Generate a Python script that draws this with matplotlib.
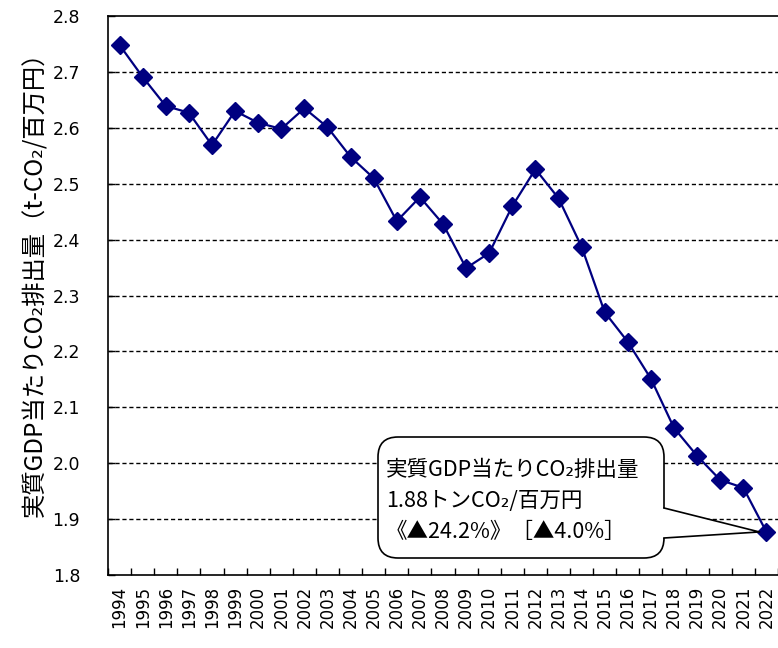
import matplotlib
matplotlib.use("Agg")
import matplotlib.pyplot as plt
from matplotlib.patches import FancyBboxPatch, Polygon
from matplotlib.lines import Line2D
import numpy as np

plt.rcParams['font.family'] = ['DejaVu Sans']
JP = ['Noto Sans CJK JP', 'DejaVu Sans']

# Real-GDP CO2 intensity (t-CO2 per million yen), FY1994-FY2022
years = [str(y) for y in range(1994, 2023)]
intensity = [2.748, 2.691, 2.639, 2.627, 2.569, 2.630, 2.609, 2.598, 2.635, 2.601,
             2.548, 2.510, 2.433, 2.476, 2.428, 2.349, 2.376, 2.460, 2.526, 2.474,
             2.387, 2.270, 2.217, 2.151, 2.063, 2.013, 1.970, 1.956, 1.877]
y_ticks = [1.8, 1.9, 2.0, 2.1, 2.2, 2.3, 2.4, 2.5, 2.6, 2.7, 2.8]
y_label = "実質GDP当たりCO₂排出量（t-CO₂/百万円）"
callout_lines = ["実質GDP当たりCO₂排出量", "1.88トンCO₂/百万円", "《▲24.2%》［▲4.0%］"]

W, H = 778, 648
fig = plt.figure(figsize=(W / 100, H / 100), dpi=100)
ax = fig.add_axes([108 / W, (H - 575) / H, (W - 108) / W, (575 - 16) / H])

x = np.arange(len(years))
ax.plot(x, intensity, color='#000080', lw=1.6, marker='D', markersize=9,
        markerfacecolor='#000080', markeredgecolor='#000080', zorder=3, clip_on=False)

ax.set_xlim(-0.5, len(years) - 0.5)
ax.set_ylim(1.8, 2.8)
ax.set_yticks(y_ticks)
ax.set_yticklabels([f"{v:.1f}" for v in y_ticks], fontsize=12.5)
ax.set_xticks(x)
ax.set_xticklabels(years, rotation=90, fontsize=12)
ax.set_xticks(np.arange(-0.5, len(years)), minor=True)
ax.tick_params(axis='x', which='major', length=0, pad=8)
ax.tick_params(axis='x', which='minor', direction='in', length=5, width=1)
ax.tick_params(axis='y', direction='in', length=5, width=1, pad=20)

for v in y_ticks[1:-1]:
    ax.axhline(v, color='black', lw=1, ls=(0, (3, 2)), zorder=1)

ax.spines['right'].set_visible(False)
for s in ['left', 'bottom', 'top']:
    ax.spines[s].set_linewidth(1.2)

fig.text(35 / W, (H - 278) / H, y_label, rotation=90, fontsize=17.5,
         family=JP, ha='center', va='center')

# Callout box in pixel-based inch coordinates
tr = fig.dpi_scale_trans
def px(xp, yp):
    return (xp / 100, (H - yp) / 100)

bx0, by0, bx1, by1 = 378, 437, 664, 558
box = FancyBboxPatch(px(bx0, by1), (bx1 - bx0) / 100, (by1 - by0) / 100,
                     boxstyle="round,pad=0,rounding_size=0.2",
                     transform=tr, facecolor='white', edgecolor='black', lw=1.2, zorder=5)
fig.add_artist(box)

fig.canvas.draw()
tip_disp = ax.transData.transform((len(years) - 1, intensity[-1]))
tip = (tip_disp[0] / 100 - 0.07, tip_disp[1] / 100)
a1 = px(bx1, 508)
a2 = px(bx1, 538)
wedge = Polygon([(a1[0] - 0.02, a1[1]), tip, (a2[0] - 0.02, a2[1])], closed=True,
                transform=tr, facecolor='white', edgecolor='none', zorder=6)
fig.add_artist(wedge)
fig.add_artist(Line2D([a1[0], tip[0], a2[0]], [a1[1], tip[1], a2[1]],
                      transform=tr, color='black', lw=1.2, zorder=7))

for i, line in enumerate(callout_lines):
    fig.text(386 / 100, (H - (470 + 31 * i)) / 100, line, transform=tr,
             fontsize=15.5, family=JP, ha='left', va='center', zorder=8)

fig.savefig("out.png", dpi=100)
